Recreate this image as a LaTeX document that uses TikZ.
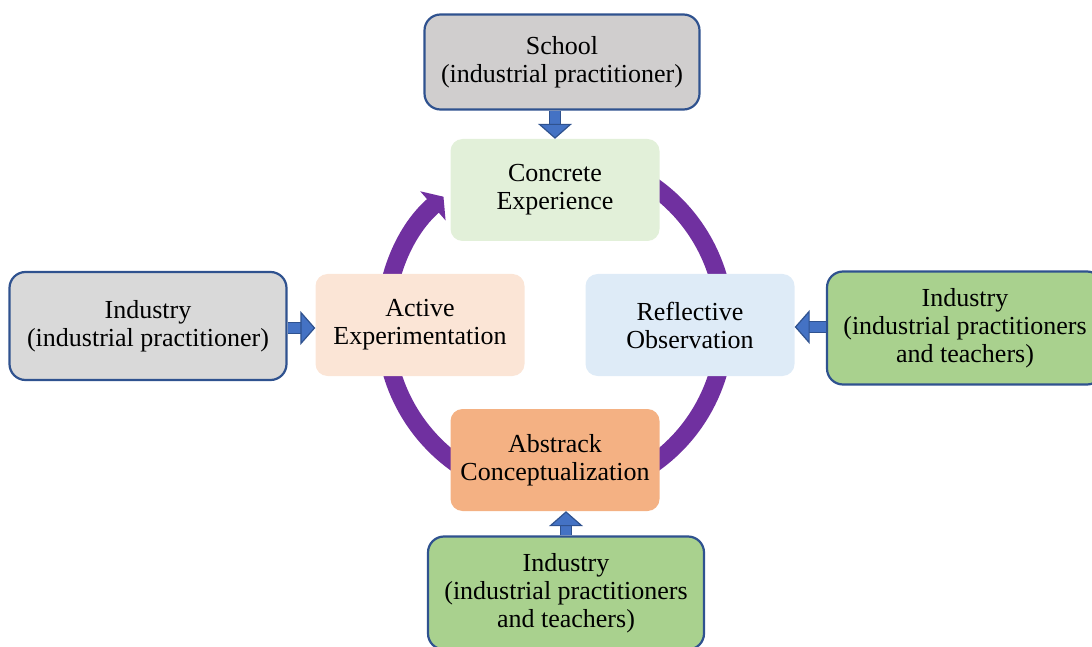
\documentclass[tikz,border=0pt]{standalone}
\usepackage{fontspec}
\setmainfont{Liberation Serif}
\usetikzlibrary{arrows.meta}

\definecolor{edgeblue}{HTML}{2F528F}
\definecolor{arrowblue}{HTML}{4472C4}
\definecolor{cyclepurple}{HTML}{7030A0}
\definecolor{schoolgray}{HTML}{D0CECE}
\definecolor{industrygray}{HTML}{D9D9D9}
\definecolor{industrygreen}{HTML}{A9D18E}
\definecolor{cegreen}{HTML}{E2F0D9}
\definecolor{aeorange}{HTML}{FBE5D6}
\definecolor{roblue}{HTML}{DEEBF7}
\definecolor{acorange}{HTML}{F4B183}

\begin{document}
\begin{tikzpicture}[x=1pt,y=1pt,
    every node/.style={align=center, font=\fontsize{26}{28}\selectfont},
    stage/.style={rounded corners=12pt, minimum width=209pt, minimum height=102pt},
    actor/.style={draw=edgeblue, line width=2.2pt, rounded corners=16pt,
        minimum width=276pt},
    feed/.style={draw=edgeblue, line width=1.2pt, double=arrowblue, double distance=10pt,
        -{Triangle[width=34pt, length=15pt, fill=arrowblue]}},
    cycle/.style={draw=cyclepurple, line width=18pt,
        -{Triangle[width=38pt, length=14pt]}}]
    \useasboundingbox (0,0) rectangle (1092,646);

    % learning cycle behind the four stages
    \coordinate (hub) at (555,321);
    \draw[cycle] (hub) ++(65:170) arc[start angle=65, end angle=-229, radius=170];

    % the four stages
    \node[stage, fill=cegreen] (ce) at (555,456) {Concrete\\Experience};
    \node[stage, fill=aeorange] (ae) at (420,321) {Active\\Experimentation};
    \node[stage, fill=roblue] (ro) at (690,321) {Reflective\\Observation};
    \node[stage, fill=acorange] (ac) at (555,186) {Abstrack\\Conceptualization};

    % who takes part in each stage
    \node[actor, fill=schoolgray, minimum width=275pt, minimum height=95pt] (school) at (562,584)
        {School\\(industrial practitioner)};
    \node[actor, fill=industrygray, minimum width=277pt, minimum height=108pt] (indl) at (148,320)
        {Industry\\(industrial practitioner)};
    \node[actor, fill=industrygreen, minimum height=113pt] (indr) at (965,318)
        {Industry\\(industrial practitioners\\and teachers)};
    \node[actor, fill=industrygreen, minimum height=113pt] (indb) at (566,53)
        {Industry\\(industrial practitioners\\and teachers)};

    \draw[feed] (school.south -| ce) -- (ce.north);
    \draw[feed] (indl.east |- 0,318) -- (ae.west |- 0,318);
    \draw[feed] (indr.west |- 0,319) -- (ro.east |- 0,319);
    \draw[feed] (indb.north) -- (ac.south -| indb);
\end{tikzpicture}
\end{document}
